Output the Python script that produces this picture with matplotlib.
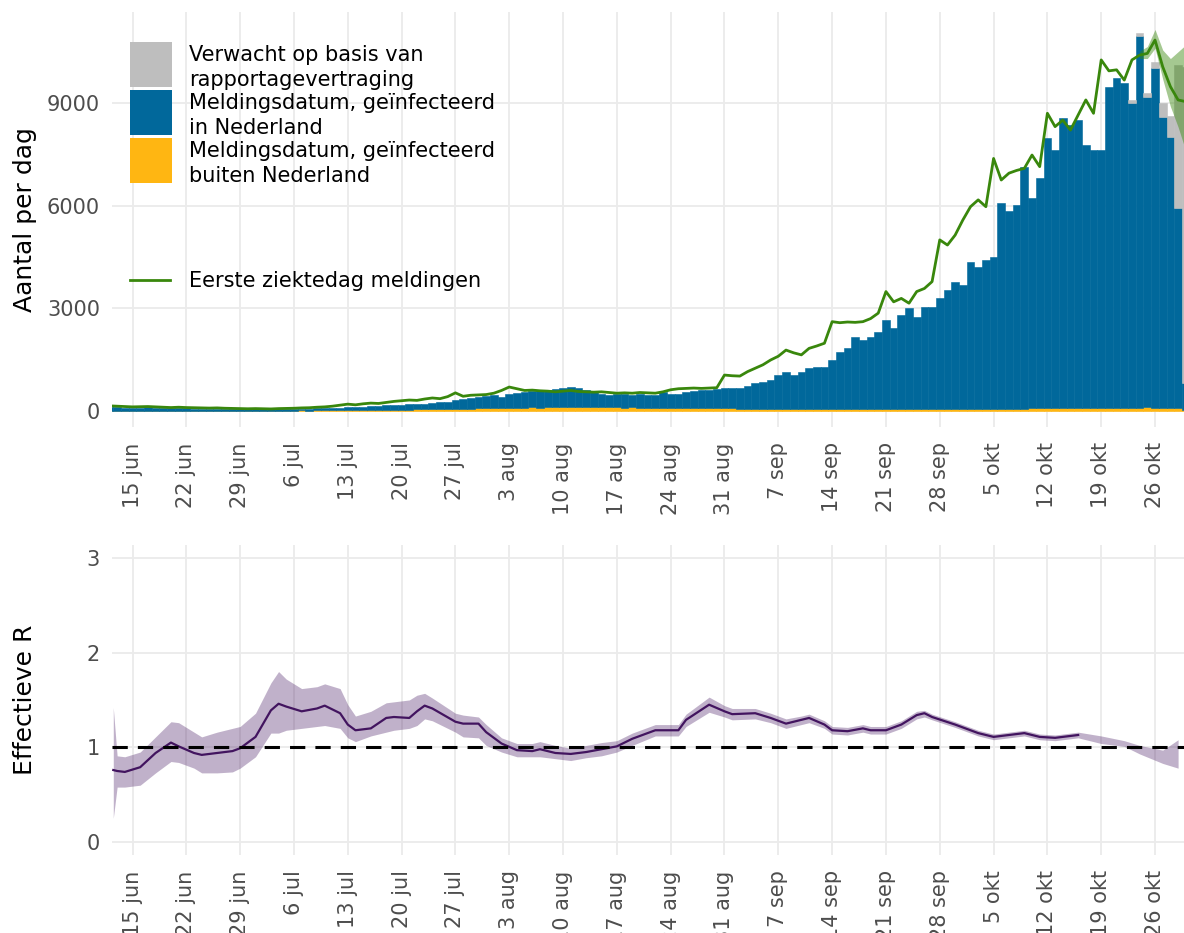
import numpy as np
import matplotlib
matplotlib.use("Agg")
import matplotlib.pyplot as plt
import matplotlib.dates as mdates
from matplotlib.patches import Rectangle
from matplotlib.lines import Line2D
from matplotlib.ticker import FuncFormatter

plt.rcParams['font.family'] = 'DejaVu Sans'

# dagelijkse meldingen van 12 jun t/m 30 okt 2020
dagen = np.arange(np.datetime64('2020-06-12'), np.datetime64('2020-10-31'))

# totaal gemeld per dag (binnen + buiten Nederland)
meldingen_totaal = np.array([
    120, 110, 100, 95, 100, 110, 100, 90, 80, 85,
    75, 70, 65, 60, 65, 70, 60, 55, 55,
    50, 55, 60, 50, 45, 55, 60, 70, 75, 85,
    95, 100, 110, 120, 130, 140, 150, 165, 175, 185,
    190, 200, 210, 230, 250, 270, 330, 350, 380, 420, 440,
    470, 420, 500, 540, 560, 580, 600, 610, 640, 660,
    700, 680, 620, 560, 500, 480, 500, 490, 480, 510,
    480, 470, 560, 490, 500, 560, 580, 600, 610, 640, 660,
    670, 680, 730, 810, 860, 910, 1050, 1150, 1050, 1150, 1250,
    1300, 1300, 1500, 1730, 1830, 2170, 2075,
    2170, 2320, 2660, 2420, 2810, 3000, 2760, 3030, 3050, 3300, 3540,
    3780, 3680, 4360, 4220, 4410, 4510, 6070, 5830, 6020, 7140,
    6220, 6800, 7970, 7630, 8550, 8370, 8500, 7770, 7630, 7630,
    9460, 9720, 9580, 8990, 10960, 9190, 10010, 8600, 8020, 5930, 820,
])

# geinfecteerd buiten Nederland
buitenland = np.array([
    8, 6, 7, 5, 6, 8, 7, 6, 5, 6, 5, 7, 6, 5, 6, 7, 6, 5, 6,
    8, 10, 9, 12, 11, 14, 15, 13, 16, 18, 20, 22, 21, 25, 28, 30, 27, 32, 35, 38,
    40, 45, 48, 52, 55, 60, 65, 70, 72, 75, 80, 85, 90, 88, 95, 100, 105, 98, 110, 112, 115,
    118, 120, 115, 112, 110, 108, 105, 100, 102, 98, 95, 92, 90, 88, 85, 90, 86, 84, 80, 82, 78,
    75, 72, 70, 68, 70, 65, 66, 64, 62, 60, 62, 58, 60, 62, 58, 56, 60, 58, 62, 60,
    58, 60, 56, 58, 60, 62, 58, 60, 64, 62,
    60, 62, 65, 63, 66, 68, 70, 72, 70, 74, 76, 78, 75, 80, 82, 85, 84, 88, 90, 92,
    95, 98, 96, 100, 102, 100, 98, 95, 92, 40,
])
binnenland = meldingen_totaal - buitenland

# verwacht op basis van rapportagevertraging (laatste dagen)
verwacht_dagen = np.arange(np.datetime64('2020-10-23'), np.datetime64('2020-10-31'))
verwacht_extra = np.array([100, 80, 100, 190, 390, 590, 4180, 9240])

# eerste ziektedag meldingen
ziektedag = np.array([
    150, 140, 130, 120, 125, 130, 120, 110, 100, 110,
    100, 95, 90, 85, 90, 80, 75, 70, 65,
    70, 65, 60, 70, 75, 80, 90, 95, 110, 120,
    140, 170, 200, 180, 210, 230, 220, 250, 280, 300,
    320, 310, 350, 380, 360, 420, 530, 430, 460, 470, 480,
    520, 600, 700, 650, 600, 610, 590, 580, 560, 580, 600, 570, 560, 550,
    560, 540, 520, 530, 520, 540, 530, 520, 560,
    620, 650, 660, 670, 660, 670, 680,
    1050, 1030, 1020, 1150, 1250, 1350, 1490, 1600, 1780, 1700, 1640, 1830, 1900, 1980,
    2610, 2580, 2600, 2590, 2610, 2700, 2860,
    3490, 3190, 3290, 3150, 3490, 3580, 3780, 5000, 4850, 5140, 5580, 5970, 6170, 5970, 7380,
    6750, 6950, 7030, 7090, 7480, 7140, 8700, 8310, 8500, 8210, 8650, 9090, 8700,
    10260, 9940, 9970, 9670, 10260, 10400, 10450, 10840, 10060, 9480, 9090, 9040,
])
band_dagen = np.arange(np.datetime64('2020-10-24'), np.datetime64('2020-10-31'))
ziektedag_laag = [10300, 10300, 10600, 9700, 8900, 8300, 7600]
ziektedag_hoog = [10520, 10650, 11150, 10550, 10300, 10500, 10700]

# effectieve R
r_datum = np.array([
    '2020-06-12T12', '2020-06-13', '2020-06-14', '2020-06-16', '2020-06-18', '2020-06-20',
    '2020-06-21', '2020-06-23', '2020-06-24', '2020-06-26', '2020-06-28', '2020-06-29',
    '2020-07-01', '2020-07-03', '2020-07-04', '2020-07-05', '2020-07-07', '2020-07-09',
    '2020-07-10', '2020-07-12', '2020-07-13', '2020-07-14', '2020-07-16', '2020-07-18',
    '2020-07-19', '2020-07-21', '2020-07-22', '2020-07-23', '2020-07-24', '2020-07-27',
    '2020-07-28', '2020-07-30', '2020-07-31', '2020-08-02', '2020-08-04', '2020-08-06',
    '2020-08-07', '2020-08-09', '2020-08-11', '2020-08-13', '2020-08-15', '2020-08-17',
    '2020-08-19', '2020-08-22', '2020-08-25', '2020-08-26', '2020-08-29', '2020-08-31',
    '2020-09-01', '2020-09-04', '2020-09-06', '2020-09-08', '2020-09-10', '2020-09-11',
    '2020-09-13', '2020-09-14', '2020-09-16', '2020-09-18', '2020-09-19', '2020-09-21',
    '2020-09-23', '2020-09-25', '2020-09-26', '2020-09-27', '2020-09-30', '2020-10-03',
    '2020-10-05', '2020-10-07', '2020-10-09', '2020-10-11', '2020-10-13', '2020-10-16',
], dtype='datetime64[h]')
r_waarde = [
    0.76, 0.75, 0.74, 0.79, 0.94, 1.05, 1.01, 0.94, 0.92, 0.94, 0.96, 0.99,
    1.11, 1.39, 1.46, 1.43, 1.38, 1.41, 1.44, 1.36, 1.24, 1.18, 1.20, 1.31,
    1.32, 1.31, 1.38, 1.44, 1.41, 1.27, 1.25, 1.25, 1.16, 1.04, 0.97, 0.96,
    0.98, 0.94, 0.93, 0.95, 0.98, 1.01, 1.09, 1.18, 1.18, 1.29, 1.45, 1.38,
    1.35, 1.36, 1.31, 1.25, 1.29, 1.31, 1.24, 1.18, 1.17, 1.20, 1.18, 1.18,
    1.24, 1.34, 1.36, 1.32, 1.24, 1.15, 1.11, 1.13, 1.15, 1.11, 1.10, 1.13,
]
r_laag = [
    0.25, 0.58, 0.58, 0.60, 0.73, 0.85, 0.84, 0.78, 0.73, 0.73, 0.74, 0.78,
    0.90, 1.15, 1.15, 1.18, 1.20, 1.22, 1.23, 1.20, 1.10, 1.06, 1.12, 1.16,
    1.18, 1.20, 1.23, 1.30, 1.28, 1.16, 1.11, 1.10, 1.02, 0.95, 0.90, 0.90,
    0.90, 0.88, 0.86, 0.89, 0.91, 0.95, 1.02, 1.12, 1.12, 1.22, 1.37, 1.32,
    1.29, 1.30, 1.26, 1.20, 1.24, 1.26, 1.20, 1.14, 1.13, 1.16, 1.14, 1.14,
    1.20, 1.30, 1.32, 1.29, 1.21, 1.12, 1.08, 1.10, 1.12, 1.08, 1.07, 1.10,
]
r_hoog = [
    1.42, 0.91, 0.90, 0.95, 1.11, 1.27, 1.26, 1.16, 1.11, 1.16, 1.20, 1.22,
    1.36, 1.68, 1.80, 1.72, 1.62, 1.64, 1.67, 1.62, 1.45, 1.33, 1.38, 1.47,
    1.48, 1.50, 1.55, 1.57, 1.52, 1.36, 1.34, 1.32, 1.24, 1.10, 1.04, 1.04,
    1.06, 1.02, 0.99, 1.02, 1.05, 1.07, 1.15, 1.24, 1.24, 1.35, 1.53, 1.44,
    1.41, 1.41, 1.36, 1.30, 1.33, 1.35, 1.28, 1.22, 1.21, 1.24, 1.22, 1.22,
    1.28, 1.38, 1.39, 1.35, 1.27, 1.18, 1.14, 1.16, 1.18, 1.14, 1.13, 1.16,
]
# alleen onzekerheidsband na het laatste punt
r_prog_datum = np.array(['2020-10-16', '2020-10-19', '2020-10-22', '2020-10-24',
                         '2020-10-27', '2020-10-29'], dtype='datetime64[h]')
r_prog_laag = [1.10, 1.04, 1.01, 0.93, 0.83, 0.78]
r_prog_hoog = [1.16, 1.12, 1.07, 1.02, 0.97, 1.08]

maanden = ['jan', 'feb', 'mrt', 'apr', 'mei', 'jun', 'jul', 'aug', 'sep', 'okt', 'nov', 'dec']

blauw = '#01689B'
oranje = '#FFB612'
grijs = '#BEBEBE'
groen = '#39870C'
paars = '#42145F'

W, H = 1184, 933
fig = plt.figure(figsize=(W / 100, H / 100), dpi=100)
ax1 = fig.add_axes([112 / W, (H - 427) / H, 1088 / W, 415 / H])
ax2 = fig.add_axes([112 / W, (H - 855) / H, 1088 / W, 310 / H])

# bovenste paneel
ax1.bar(dagen, buitenland, width=1.0, color=oranje, edgecolor=oranje, lw=0.4)
ax1.bar(dagen, binnenland, bottom=buitenland, width=1.0, color=blauw, edgecolor=blauw, lw=0.4)
ax1.bar(verwacht_dagen, verwacht_extra, bottom=meldingen_totaal[-len(verwacht_extra):],
        width=1.0, color=grijs, edgecolor=grijs, lw=0.4)
ax1.fill_between(band_dagen, ziektedag_laag, ziektedag_hoog, color=groen, alpha=0.45, lw=0)
ax1.plot(dagen, ziektedag, color=groen, lw=2.0)
ax1.set_ylim(-468, 11660)
ax1.set_yticks([0, 3000, 6000, 9000])

# onderste paneel
ax2.fill_between(r_datum, r_laag, r_hoog, color=paars, alpha=0.33, lw=0)
ax2.fill_between(r_prog_datum, r_prog_laag, r_prog_hoog, color=paars, alpha=0.33, lw=0)
ax2.plot(r_datum, r_waarde, color=paars, lw=1.6)
ax2.axhline(1, color='black', lw=2.2, ls=(0, (5, 3.3)))
ax2.set_ylim(-0.137, 3.136)
ax2.set_yticks([0, 1, 2, 3])

x0 = mdates.date2num(np.datetime64('2020-06-15'))
fmt = FuncFormatter(lambda x, pos: f"{mdates.num2date(x).day} {maanden[mdates.num2date(x).month - 1]}")
for ax in (ax1, ax2):
    ax.set_xlim(x0 - 2.667, x0 + 138.85)
    ax.xaxis.set_major_locator(mdates.WeekdayLocator(byweekday=mdates.MO))
    ax.xaxis.set_major_formatter(fmt)
    ax.grid(True, color='#EBEBEB', lw=1.3)
    ax.set_axisbelow(True)
    for s in ax.spines.values():
        s.set_visible(False)
    ax.tick_params(length=0, labelsize=15, labelcolor='#4D4D4D')
    ax.tick_params(axis='x', labelrotation=90, pad=11)
    ax.tick_params(axis='y', pad=8.6)

fig.text(25 / W, 1 - 219.5 / H, 'Aantal per dag', rotation=90, ha='center', va='center', fontsize=18)
fig.text(25 / W, 1 - 700 / H, 'Effectieve R', rotation=90, ha='center', va='center', fontsize=18)

# legenda
legenda_kleuren = [grijs, blauw, oranje]
legenda_tekst = ['Verwacht op basis van\nrapportagevertraging',
                 'Meldingsdatum, geïnfecteerd\nin Nederland',
                 'Meldingsdatum, geïnfecteerd\nbuiten Nederland']
for k, (kleur, tekst) in enumerate(zip(legenda_kleuren, legenda_tekst)):
    top = 42 + k * 48
    fig.add_artist(Rectangle((130 / W, 1 - (top + 45) / H), 42 / W, 45 / H,
                             transform=fig.transFigure, color=kleur, lw=0))
    for j, regel in enumerate(tekst.split('\n')):
        basis = top + 19 + j * 24.5
        fig.text(189 / W, 1 - basis / H, regel, fontsize=15, va='baseline', ha='left')
fig.add_artist(Line2D([130 / W, 170 / W], [1 - 280 / H, 1 - 280 / H],
                      transform=fig.transFigure, color=groen, lw=2.0))
fig.text(189 / W, 1 - 287 / H, 'Eerste ziektedag meldingen', fontsize=15, va='baseline', ha='left')

fig.savefig('out.png', dpi=100)
